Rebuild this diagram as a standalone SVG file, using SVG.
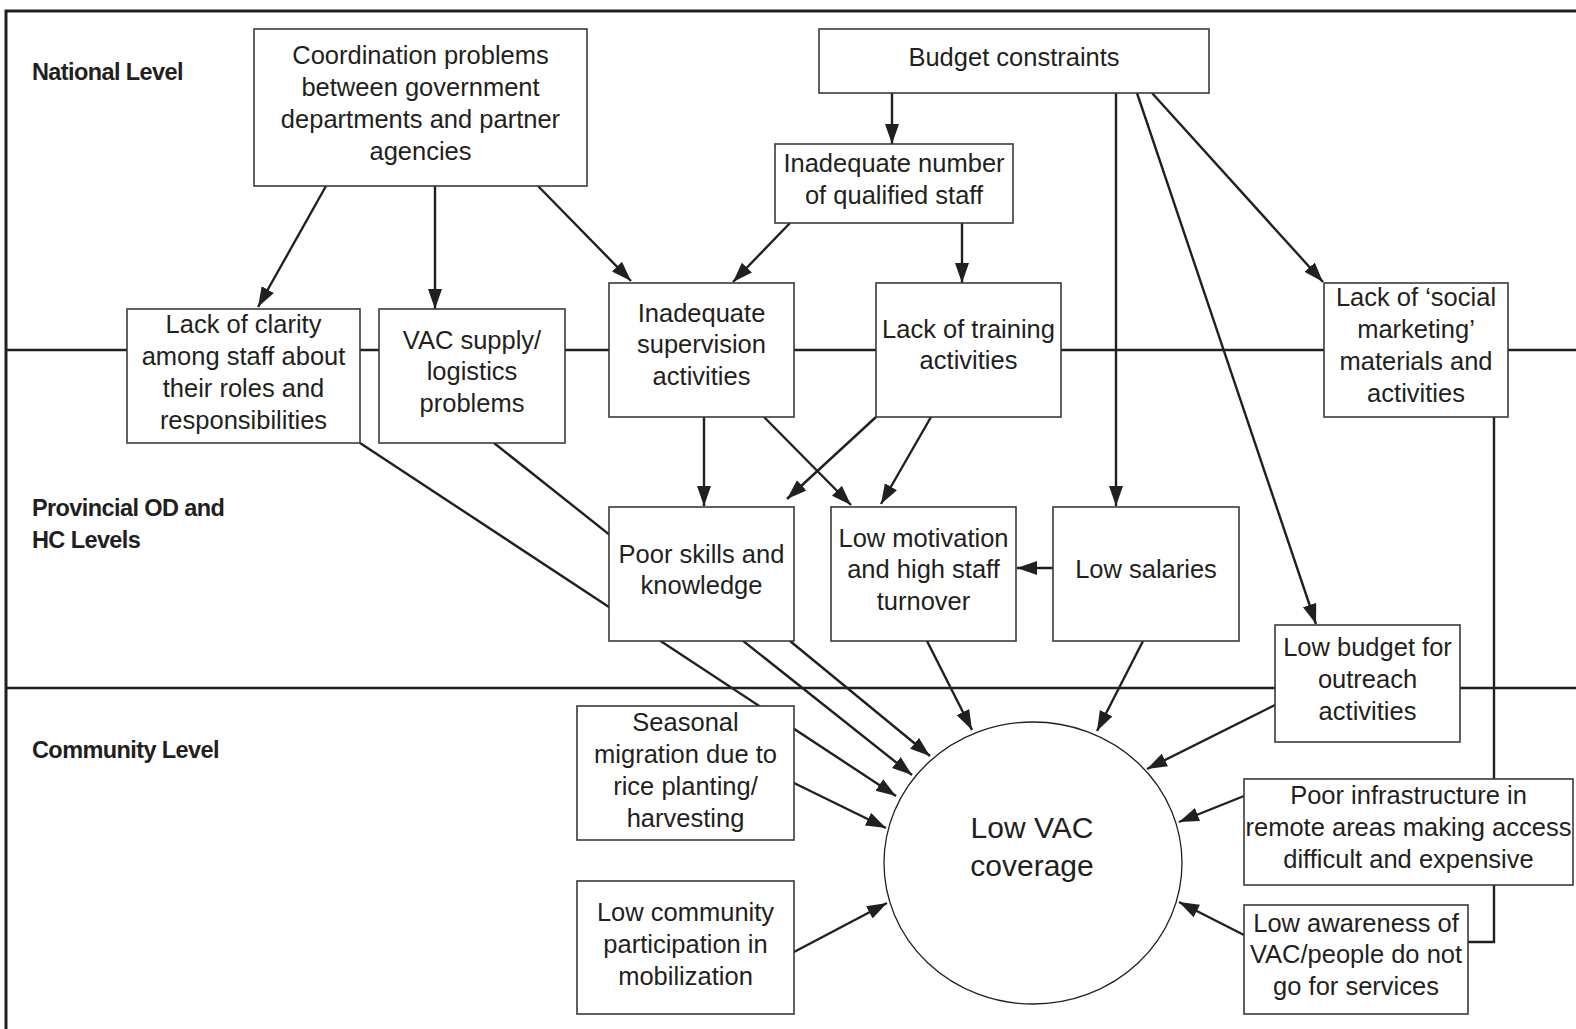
<svg xmlns="http://www.w3.org/2000/svg" width="1576" height="1029" viewBox="0 0 1576 1029">
<defs>
<marker id="ah" markerUnits="userSpaceOnUse" markerWidth="22" markerHeight="16" refX="20" refY="7" orient="auto">
<path d="M0,0 L20,7 L0,14 z" fill="#231f20"/>
</marker>
<style>
.frame{fill:none;stroke:#231f20;stroke-width:3}
.level{fill:none;stroke:#231f20;stroke-width:2.5}
.lbl{font-family:"Liberation Sans",Arial,sans-serif;font-weight:bold;font-size:23.5px;fill:#231f20;letter-spacing:-0.6px}
.box{fill:#fff;stroke:#3a3a3a;stroke-width:1.6}
.t{font-family:"Liberation Sans",Arial,sans-serif;font-size:25.5px;fill:#231f20;text-anchor:middle}
.big{font-size:30px}
.c{fill:none;stroke:#231f20;stroke-width:2.4}
.a{fill:none;stroke:#231f20;stroke-width:2.4;marker-end:url(#ah)}
.ell{fill:#fff;stroke:#231f20;stroke-width:1.3}
</style>
</defs>
<rect width="1576" height="1029" fill="#fff"/>
<g id="frame">
<path class="frame" d="M6,1029 V11 H1576"/>
<line class="level" x1="6" y1="350" x2="1576" y2="350"/>
<line class="level" x1="6" y1="688" x2="1576" y2="688"/>
<text class="lbl" x="32" y="80">National Level</text>
<text class="lbl" x="32" y="516">Provincial OD and</text>
<text class="lbl" x="32" y="548">HC Levels</text>
<text class="lbl" x="32" y="758">Community Level</text>
</g>
<g id="connectors">
<line class="a" x1="326" y1="186" x2="258" y2="307"/>
<line class="a" x1="435" y1="186" x2="435" y2="309"/>
<line class="a" x1="538" y1="186" x2="631" y2="281"/>
<line class="a" x1="892" y1="93" x2="892" y2="144"/>
<line class="a" x1="790" y1="223" x2="733" y2="282"/>
<line class="a" x1="962" y1="223" x2="962" y2="283"/>
<line class="a" x1="1116" y1="93" x2="1116" y2="506"/>
<line class="a" x1="1137" y1="93" x2="1316" y2="624"/>
<line class="a" x1="1152" y1="93" x2="1323" y2="282"/>
<line class="a" x1="704" y1="417" x2="704" y2="506"/>
<line class="a" x1="764" y1="417" x2="851" y2="505"/>
<line class="a" x1="876" y1="417" x2="787" y2="499"/>
<line class="a" x1="931" y1="417" x2="881" y2="504"/>
<line class="a" x1="1053" y1="568" x2="1017" y2="568"/>
<line class="a" x1="927" y1="641" x2="972" y2="730"/>
<line class="a" x1="1143" y1="641" x2="1097" y2="731"/>
<line class="a" x1="1275" y1="705" x2="1147" y2="769"/>
<line class="a" x1="1244" y1="796" x2="1179" y2="822"/>
<line class="a" x1="1244" y1="935" x2="1179" y2="902"/>
<line class="a" x1="360" y1="443" x2="896" y2="796"/>
<line class="a" x1="494" y1="443" x2="912" y2="775"/>
<line class="a" x1="790" y1="641" x2="930" y2="756"/>
<line class="a" x1="794" y1="783" x2="886" y2="828"/>
<line class="a" x1="794" y1="952" x2="887" y2="903"/>
<polyline class="c" points="1494,417 1494,942 1468,942"/>
</g>
<g id="n-coordination">
<rect class="box" x="254" y="29" width="333" height="157"/>
<text class="t" x="420.5" y="64">Coordination problems</text>
<text class="t" x="420.5" y="96">between government</text>
<text class="t" x="420.5" y="128">departments and partner</text>
<text class="t" x="420.5" y="160">agencies</text>
</g>
<g id="n-budget">
<rect class="box" x="819" y="29" width="390" height="64"/>
<text class="t" x="1014" y="66">Budget constraints</text>
</g>
<g id="n-staff">
<rect class="box" x="775" y="144" width="238" height="79"/>
<text class="t" x="894" y="172">Inadequate number</text>
<text class="t" x="894" y="204">of qualified staff</text>
</g>
<g id="n-clarity">
<rect class="box" x="127" y="309" width="233" height="134"/>
<text class="t" x="243.5" y="333">Lack of clarity</text>
<text class="t" x="243.5" y="365">among staff about</text>
<text class="t" x="243.5" y="397">their roles and</text>
<text class="t" x="243.5" y="429">responsibilities</text>
</g>
<g id="n-supply">
<rect class="box" x="379" y="309" width="186" height="134"/>
<text class="t" x="472" y="349">VAC supply/</text>
<text class="t" x="472" y="380">logistics</text>
<text class="t" x="472" y="412">problems</text>
</g>
<g id="n-supervision">
<rect class="box" x="609" y="283" width="185" height="134"/>
<text class="t" x="701.5" y="322">Inadequate</text>
<text class="t" x="701.5" y="353">supervision</text>
<text class="t" x="701.5" y="385">activities</text>
</g>
<g id="n-training">
<rect class="box" x="876" y="283" width="185" height="134"/>
<text class="t" x="968.5" y="338">Lack of training</text>
<text class="t" x="968.5" y="369">activities</text>
</g>
<g id="n-social">
<rect class="box" x="1324" y="283" width="184" height="134"/>
<text class="t" x="1416" y="306">Lack of ‘social</text>
<text class="t" x="1416" y="338">marketing’</text>
<text class="t" x="1416" y="370">materials and</text>
<text class="t" x="1416" y="402">activities</text>
</g>
<g id="n-skills">
<rect class="box" x="609" y="507" width="185" height="134"/>
<text class="t" x="701.5" y="563">Poor skills and</text>
<text class="t" x="701.5" y="594">knowledge</text>
</g>
<g id="n-motivation">
<rect class="box" x="831" y="507" width="185" height="134"/>
<text class="t" x="923.5" y="547">Low motivation</text>
<text class="t" x="923.5" y="578">and high staff</text>
<text class="t" x="923.5" y="610">turnover</text>
</g>
<g id="n-salaries">
<rect class="box" x="1053" y="507" width="186" height="134"/>
<text class="t" x="1146" y="578">Low salaries</text>
</g>
<g id="n-outreach">
<rect class="box" x="1275" y="625" width="185" height="117"/>
<text class="t" x="1367.5" y="656">Low budget for</text>
<text class="t" x="1367.5" y="688">outreach</text>
<text class="t" x="1367.5" y="720">activities</text>
</g>
<g id="n-seasonal">
<rect class="box" x="577" y="706" width="217" height="134"/>
<text class="t" x="685.5" y="731">Seasonal</text>
<text class="t" x="685.5" y="763">migration due to</text>
<text class="t" x="685.5" y="795">rice planting/</text>
<text class="t" x="685.5" y="827">harvesting</text>
</g>
<g id="n-community">
<rect class="box" x="577" y="881" width="217" height="133"/>
<text class="t" x="685.5" y="921">Low community</text>
<text class="t" x="685.5" y="953">participation in</text>
<text class="t" x="685.5" y="985">mobilization</text>
</g>
<g id="n-infrastructure">
<rect class="box" x="1244" y="779" width="329" height="106"/>
<text class="t" x="1408.5" y="804">Poor infrastructure in</text>
<text class="t" x="1408.5" y="836">remote areas making access</text>
<text class="t" x="1408.5" y="868">difficult and expensive</text>
</g>
<g id="n-awareness">
<rect class="box" x="1244" y="905" width="224" height="109"/>
<text class="t" x="1356" y="932">Low awareness of</text>
<text class="t" x="1356" y="963">VAC/people do not</text>
<text class="t" x="1356" y="995">go for services</text>
</g>
<g id="n-coverage">
<ellipse class="ell" cx="1033" cy="863" rx="149" ry="141"/>
<text class="t big" x="1032" y="838">Low VAC</text>
<text class="t big" x="1032" y="876">coverage</text>
</g>
</svg>
